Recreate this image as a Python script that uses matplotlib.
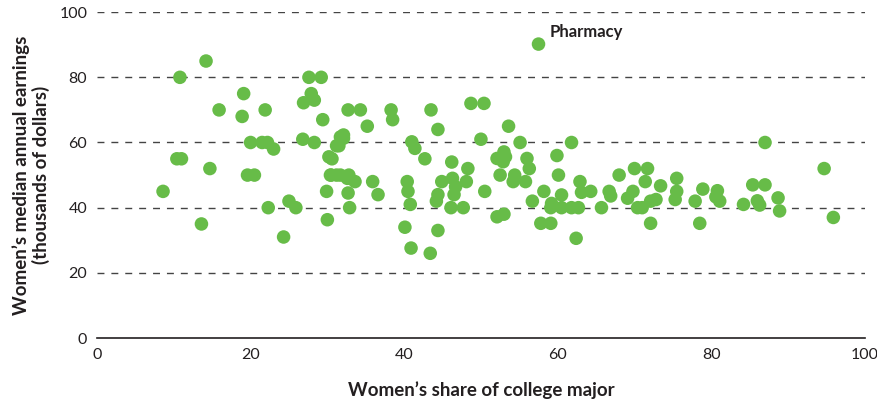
import matplotlib
matplotlib.use('Agg')
from matplotlib import pyplot as plt

# women's share of major (%) and women's median annual earnings (thousands of dollars)
share = [14.2, 10.8, 19.1, 15.9, 18.9, 21.9, 27.6, 29.2, 27.9, 26.9,
         28.3, 29.4, 20.0, 21.5, 22.2, 23.0, 26.8, 28.3, 31.7, 31.2,
         10.4, 11.0, 14.7, 19.6, 20.5, 30.2, 30.6, 30.4, 31.2, 8.6,
         29.9, 25.0, 25.9, 22.3, 13.6, 30.0, 24.3,
         32.7, 34.3, 38.3, 38.5, 35.2, 43.5, 44.4, 48.7, 50.4,
         53.6, 32.1, 32.1, 31.5, 41.0, 41.4, 42.7, 50.0, 55.1, 46.2,
         48.3, 52.1, 53.0, 52.9, 53.2, 52.5, 54.4, 54.2, 30.5, 31.7,
         32.8, 32.6, 33.6, 35.9, 32.7, 32.9, 36.6, 40.4, 40.5, 40.8,
         40.1, 40.9, 43.4, 44.9, 44.4, 44.2, 44.4, 46.3, 46.7, 46.5,
         46.1, 47.7, 48.1, 50.5, 52.1, 53.0,
         57.5, 61.8, 56.0, 56.3, 59.9, 60.1, 55.8, 58.2, 56.7, 60.5,
         59.2, 59.1, 60.5, 61.8, 62.7, 62.9, 63.1, 64.3, 57.8, 59.1,
         62.4, 65.7, 66.7, 66.9, 68.0, 70.0, 71.7, 71.4, 69.8, 69.1,
         70.4, 71.0, 72.1, 72.8, 72.1, 73.4, 75.5, 75.5, 75.3, 77.9,
         78.5, 78.9,
         80.8, 80.6, 81.1, 84.2, 85.4, 87.0, 86.0, 86.3, 87.0, 88.7,
         88.9, 94.7, 95.9]
earnings = [85, 80, 75, 70, 68, 70, 80, 80, 75, 72.2,
            73, 67, 60, 60, 60, 58, 61, 60, 61.7, 59,
            55, 55, 52, 50, 50, 55.6, 55, 50, 50, 45,
            45, 42, 40, 40, 35, 36.3, 31,
            70, 70, 70, 67, 65, 70, 64, 72, 72,
            65, 62.3, 61.3, 59, 60.2, 58.2, 55, 61, 60, 54,
            52, 55.1, 57.1, 54.1, 55.6, 50, 50, 48, 50, 50,
            50, 49, 48, 48, 44.5, 40, 44, 48, 45, 41,
            34, 27.6, 26, 48, 44, 42, 33, 49, 46.4, 44,
            40, 40, 48, 45, 37.2, 38,
            90.2, 60, 55.1, 52, 56, 50, 48, 45, 42, 43.9,
            41.3, 40, 40, 40, 40, 48, 44.7, 45, 35.2, 35.2,
            30.6, 40, 45, 43.6, 50, 52, 52, 48, 45, 42.9,
            40, 40, 42, 42.5, 35.2, 46.7, 49, 45, 42.5, 42,
            35.2, 45.7,
            45.2, 43.3, 42, 41, 47, 47, 42.1, 40.8, 60, 43,
            39, 52, 37]

label_name = 'Pharmacy'
label_x = 57.5
label_y = 90.2

dot_color = '#67bc48'

plt.rcParams['font.family'] = ['Lato', 'DejaVu Sans']

fig = plt.figure(figsize=(8.78, 4.05), dpi=100)
ax = fig.add_axes([0.1105, 0.1654, 0.8745, 0.8046])

# dashed gridlines
for g in [20, 40, 60, 80, 100]:
    ax.axhline(g, color='#444444', linewidth=1, dashes=(5, 5), zorder=1)

ax.scatter(share, earnings, s=95, color=dot_color, edgecolors='none', zorder=3)

ax.annotate(label_name, xy=(label_x, label_y), xytext=(8, 3), textcoords='offset points',
            fontsize=12, fontweight='bold', color='#231f20', va='bottom', ha='left')

ax.set_xlim(0, 100)
ax.set_ylim(0, 100)
ax.set_xticks([0, 20, 40, 60, 80, 100])
ax.set_yticks([0, 20, 40, 60, 80, 100])
ax.tick_params(length=0, labelsize=11.5, colors='#231f20')
ax.tick_params(axis='y', pad=7)
ax.tick_params(axis='x', pad=7)

for s in ['top', 'right', 'left']:
    ax.spines[s].set_visible(False)
ax.spines['bottom'].set_color('#231f20')
ax.spines['bottom'].set_linewidth(1.2)

ax.set_xlabel('Women\u2019s share of college major', fontsize=13.5, fontweight='bold',
              color='#231f20', labelpad=14)
ax.set_ylabel('Women\u2019s median annual earnings\n(thousands of dollars)', fontsize=13.5,
              fontweight='bold', color='#231f20', labelpad=7, linespacing=1.1)

plt.savefig('out.png', dpi=100)
plt.close()
